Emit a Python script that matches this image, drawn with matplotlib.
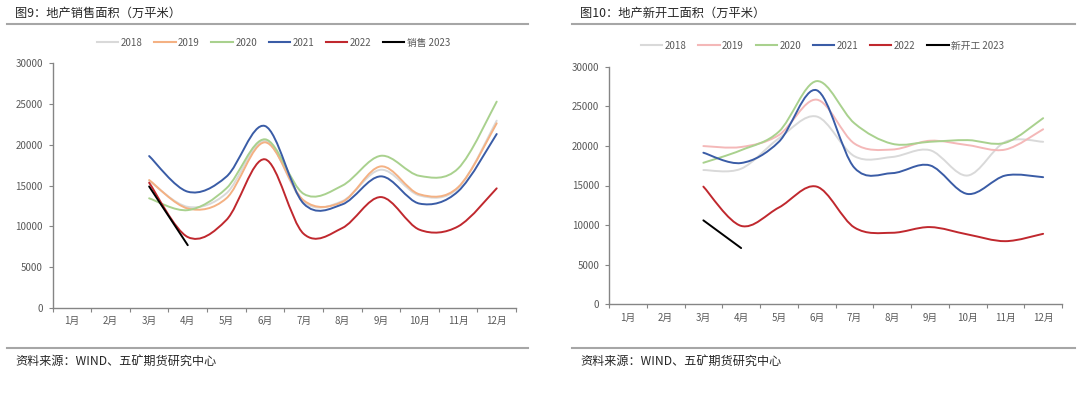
import matplotlib
matplotlib.use('Agg')
import matplotlib.pyplot as plt
from matplotlib.path import Path
from matplotlib.patches import PathPatch
from matplotlib.lines import Line2D

plt.rcParams['font.family'] = ['Noto Sans CJK SC', 'DejaVu Sans']

W, H = 1080, 394

# --- data (万平米), series start at 3月 ---
months = ['1月', '2月', '3月', '4月', '5月', '6月', '7月', '8月', '9月', '10月', '11月', '12月']
years = ['2018', '2019', '2020', '2021', '2022']

sales_2018 = [15600, 12400, 14060, 20500, 13000, 13100, 16950, 13800, 14700, 22970]
sales_2019 = [15690, 12200, 13450, 20310, 13200, 13000, 17360, 13940, 14800, 22640]
sales_2020 = [13450, 12000, 14670, 20680, 14000, 15000, 18660, 16200, 17100, 25300]
sales_2021 = [18630, 14260, 16100, 22310, 12800, 12700, 16140, 12800, 14300, 21330]
sales_2022 = [15360, 8700, 10790, 18230, 9100, 9800, 13600, 9600, 10000, 14670]
sales_2023 = [14900, 7700]

starts_2018 = [16950, 17120, 20950, 23710, 18700, 18600, 19460, 16260, 20520, 20520]
starts_2019 = [19980, 19860, 21370, 25840, 20300, 19540, 20650, 20100, 19540, 22100]
starts_2020 = [17870, 19460, 21800, 28180, 22860, 20270, 20520, 20730, 20400, 23500]
starts_2021 = [19140, 17840, 20520, 27030, 17240, 16560, 17540, 13930, 16260, 16050]
starts_2022 = [14860, 9900, 12220, 14860, 9700, 9030, 9750, 8820, 7970, 8900]
starts_2023 = [10600, 7100]

yticks = [0, 5000, 10000, 15000, 20000, 25000, 30000]

sales_colors = ['#d9d9d9', '#f4b183', '#a9d18e', '#3a5ca6', '#c0282e', '#000000']
starts_colors = ['#d9d9d9', '#f4b8b8', '#a9d18e', '#3a5ca6', '#c0282e', '#000000']

GREY_TXT = '#595959'
AXIS_C = '#858585'


def smooth_path(xs, ys):
    # excel-style smoothed line: catmull-rom turned into cubic bezier segments
    pts = list(zip(xs, ys))
    n = len(pts)
    verts = [pts[0]]
    codes = [Path.MOVETO]
    for i in range(n - 1):
        p0 = pts[max(i - 1, 0)]
        p1 = pts[i]
        p2 = pts[i + 1]
        p3 = pts[min(i + 2, n - 1)]
        c1 = (p1[0] + (p2[0] - p0[0]) / 6, p1[1] + (p2[1] - p0[1]) / 6)
        c2 = (p2[0] - (p3[0] - p1[0]) / 6, p2[1] - (p3[1] - p1[1]) / 6)
        verts += [c1, c2, p2]
        codes += [Path.CURVE4] * 3
    return Path(verts, codes)


def px_box(x0, x1, ytop, ybot):
    return [x0 / W, 1 - ybot / H, (x1 - x0) / W, (ybot - ytop) / H]


def draw_panel(fig, box, series, colors, last_label, legend_xy, title, tx, line_x):
    ax = fig.add_axes(box)
    for vals, c in zip(series, colors):
        xs = list(range(2, 2 + len(vals)))
        ax.add_patch(PathPatch(smooth_path(xs, vals), fill=False, edgecolor=c,
                               lw=1.4, capstyle='round', joinstyle='round'))

    ax.set_xlim(-0.5, 11.5)
    ax.set_ylim(0, 30000)
    ax.set_yticks(yticks)
    ax.set_yticklabels([str(v) for v in yticks])
    ax.set_xticks([i - 0.5 for i in range(13)])
    ax.set_xticklabels([])
    ax.set_xticks(range(12), minor=True)
    ax.set_xticklabels(months, minor=True)
    ax.tick_params(axis='x', which='major', direction='out', length=3, color=AXIS_C)
    ax.tick_params(axis='x', which='minor', length=0, pad=6, labelsize=7, labelcolor=GREY_TXT)
    ax.tick_params(axis='y', direction='out', length=3, pad=4, color=AXIS_C,
                   labelsize=7, labelcolor=GREY_TXT)
    for s in ['top', 'right']:
        ax.spines[s].set_visible(False)
    for s in ['left', 'bottom']:
        ax.spines[s].set_color(AXIS_C)
        ax.spines[s].set_linewidth(1.0)

    handles = [Line2D([0], [0], color=c, lw=1.5) for c in colors]
    labels = years + [last_label]
    ax.legend(handles, labels, loc='center', bbox_to_anchor=legend_xy,
              bbox_transform=fig.transFigure, ncol=6, frameon=False, fontsize=7,
              handlelength=2.2, handletextpad=0.25, columnspacing=1.2,
              labelcolor=GREY_TXT)

    # title, rules, source note
    fig.text(tx / W, 1 - 13.5 / H, title, fontsize=8.8, color='#262626', va='center')
    for yy in (23.5, 347.7):
        fig.add_artist(Line2D([line_x[0] / W, line_x[1] / W], [1 - yy / H, 1 - yy / H],
                              transform=fig.transFigure, color='#a6a6a6', lw=1.5))
    fig.text(tx / W, 1 - 361 / H, '资料来源：WIND、五矿期货研究中心', fontsize=8.7,
             color='#262626', va='center')
    return ax


fig = plt.figure(figsize=(W / 100, H / 100), dpi=100)

draw_panel(fig, px_box(52.6, 516, 63.3, 308),
           [sales_2018, sales_2019, sales_2020, sales_2021, sales_2022, sales_2023],
           sales_colors, '销售 2023', (273.5 / W, 1 - 42.7 / H),
           '图9：地产销售面积（万平米）', 15, (7, 528))

draw_panel(fig, px_box(609, 1062, 66.7, 304.3),
           [starts_2018, starts_2019, starts_2020, starts_2021, starts_2022, starts_2023],
           starts_colors, '新开工 2023', (822.5 / W, 1 - 45.7 / H),
           '图10：地产新开工面积（万平米）', 580, (572, 1075))

fig.savefig('out.png', dpi=100)
